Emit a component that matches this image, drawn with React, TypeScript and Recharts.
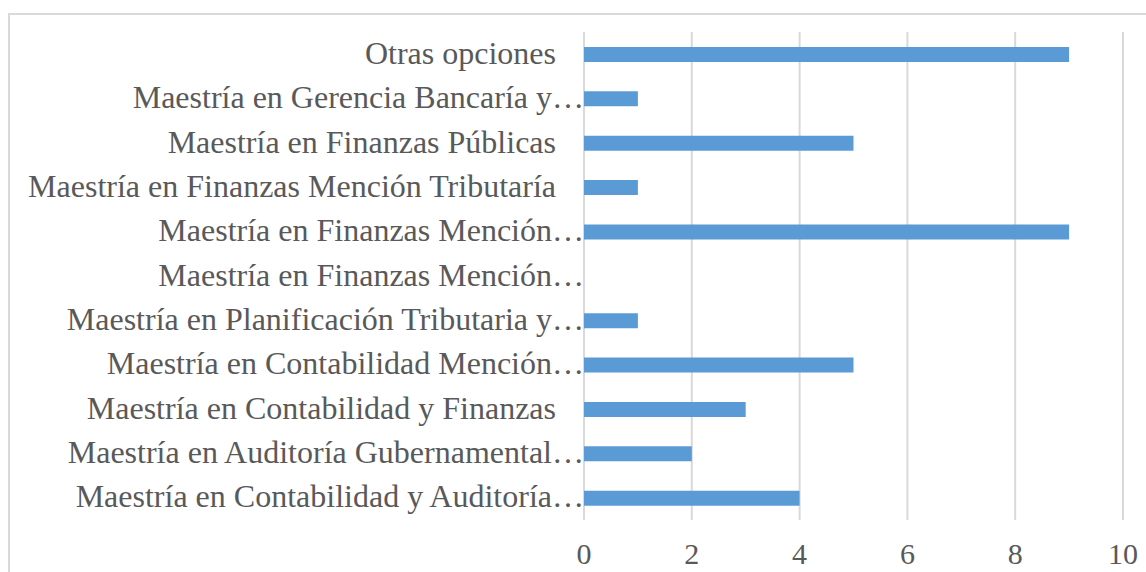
import React from "react";
import { BarChart, Bar, XAxis, YAxis, CartesianGrid } from "recharts";

const categories = [
  "Otras opciones",
  "Maestría en Gerencia Bancaría y…",
  "Maestría en Finanzas Públicas",
  "Maestría en Finanzas Mención Tributaría",
  "Maestría en Finanzas Mención…",
  "Maestría en Finanzas Mención…",
  "Maestría en Planificación Tributaria y…",
  "Maestría en Contabilidad Mención…",
  "Maestría en Contabilidad y Finanzas",
  "Maestría en Auditoría Gubernamental…",
  "Maestría en Contabilidad y Auditoría…",
];
const values = [9, 1, 5, 1, 9, 0, 1, 5, 3, 2, 4];
const xTicks = [0, 2, 4, 6, 8, 10];

const data = categories.map((name, i) => ({ id: String(i), name, value: values[i] }));

const FONT = "'Liberation Serif', 'Times New Roman', serif";
const TEXT = "#595959";

const CatTick = (props: any) => {
  const { x, y, payload } = props;
  const label = categories[Number(payload.value)] ?? "";
  const truncated = label.endsWith("…");
  return (
    <text
      x={truncated ? x : x - 28}
      y={y}
      dy="0.3em"
      textAnchor="end"
      fontSize={32}
      fontFamily={FONT}
      fill={TEXT}
    >
      {label}
    </text>
  );
};

export default function App() {
  return (
    <div style={{ position: "absolute", left: 0, top: 0, width: 1146, height: 572, overflow: "hidden", background: "#fff" }}>
      <div
        style={{
          position: "absolute",
          left: 8,
          top: 13,
          width: 1300,
          height: 800,
          border: "2px solid #d9d9d9",
          boxSizing: "border-box",
        }}
      />
      <div style={{ position: "absolute", left: 0, top: 0 }}>
        <BarChart
          width={1146}
          height={572}
          data={data}
          layout="vertical"
          margin={{ top: 32, right: 23, bottom: 0, left: 0 }}
          barCategoryGap={0}
        >
          <CartesianGrid horizontal={false} stroke="#d9d9d9" strokeWidth={2} />
          <XAxis
            type="number"
            domain={[0, 10]}
            ticks={xTicks}
            axisLine={false}
            tickLine={false}
            height={52}
            tickMargin={17}
            interval={0}
            tick={{ fontSize: 30, fontFamily: FONT, fill: TEXT }}
          />
          <YAxis
            type="category"
            dataKey="id"
            width={584}
            axisLine={false}
            tickLine={false}
            tickSize={0}
            tickMargin={0}
            interval={0}
            tick={<CatTick />}
          />
          <Bar dataKey="value" fill="#5b9bd5" barSize={15} isAnimationActive={false} />
        </BarChart>
      </div>
    </div>
  );
}
